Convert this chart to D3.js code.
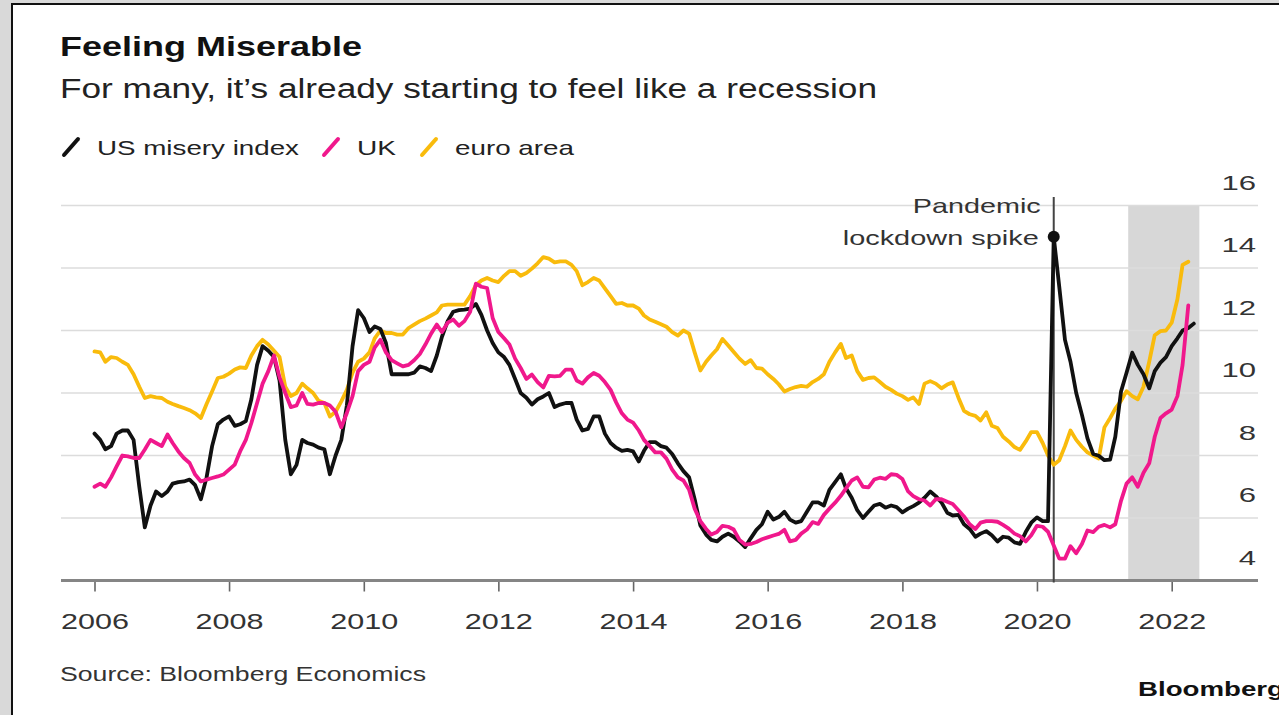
<!DOCTYPE html>
<html><head><meta charset="utf-8">
<script src="https://cdn.jsdelivr.net/npm/d3@7"></script>
<style>
html,body{margin:0;padding:0;background:#d9d9d9;}
svg{display:block;}
text{font-family:"Liberation Sans",Arial,Helvetica,sans-serif;}
</style></head>
<body>
<svg id="chart" width="1279" height="715"></svg>
<script>
// ---- data (monthly, Jan 2006 onward) ----
const startYear = 2006;
const usMisery = [8.7,8.5,8.2,8.3,8.7,8.8,8.8,8.5,7.0,5.7,6.4,6.85,6.7,6.85,7.1,7.15,7.17,7.23,7.05,6.6,7.3,8.3,9.0,9.15,9.25,8.95,9.0,9.1,9.8,10.9,11.5,11.35,11.15,10.4,8.5,7.4,7.7,8.5,8.4,8.35,8.25,8.2,7.4,8.0,8.5,9.6,11.5,12.65,12.4,11.95,12.13,12.05,11.6,10.6,10.6,10.6,10.6,10.65,10.85,10.8,10.7,11.2,11.8,12.3,12.6,12.65,12.67,12.7,12.85,12.5,12.0,11.6,11.3,11.15,10.9,10.45,10.0,9.85,9.63,9.8,9.89,10.0,9.55,9.63,9.68,9.68,9.15,8.8,8.85,9.25,9.25,8.7,8.4,8.25,8.15,8.18,8.13,7.81,8.15,8.43,8.43,8.3,8.25,8.05,7.75,7.5,7.3,6.6,5.76,5.47,5.3,5.25,5.4,5.5,5.4,5.25,5.07,5.35,5.62,5.8,6.2,5.95,6.03,6.2,5.95,5.85,5.9,6.2,6.5,6.5,6.4,6.9,7.15,7.4,6.95,6.65,6.25,6.0,6.2,6.4,6.45,6.33,6.4,6.35,6.18,6.3,6.38,6.49,6.65,6.85,6.7,6.5,6.17,6.08,6.1,5.8,5.65,5.4,5.5,5.58,5.45,5.25,5.4,5.37,5.22,5.17,5.55,5.85,6.02,5.9,5.9,15.0,13.4,11.7,11.0,10.0,9.3,8.55,8.05,7.99,7.85,7.87,8.6,10.05,10.65,11.29,10.9,10.6,10.15,10.7,10.97,11.15,11.5,11.75,12.0,12.08,12.22];
const ukMisery = [7.0,7.1,7.0,7.3,7.65,8.0,7.97,7.92,7.92,8.19,8.5,8.4,8.3,8.67,8.4,8.13,7.92,7.76,7.39,7.17,7.23,7.28,7.33,7.39,7.55,7.71,8.13,8.5,9.04,9.68,10.3,10.7,11.2,10.5,10.0,9.55,9.6,10.0,9.65,9.63,9.68,9.68,9.6,9.4,8.9,9.36,9.9,10.7,10.9,11.0,11.45,11.7,11.3,11.05,10.95,10.85,10.9,11.05,11.25,11.55,11.9,12.19,11.95,12.25,12.35,12.15,12.3,12.6,13.5,13.4,13.36,12.4,11.95,11.75,11.55,11.1,10.8,10.45,10.59,10.35,10.18,10.55,10.53,10.55,10.75,10.75,10.4,10.3,10.5,10.64,10.55,10.35,10.1,9.7,9.35,9.15,9.05,8.8,8.5,8.3,8.1,8.1,7.9,7.55,7.3,7.2,6.9,6.3,5.9,5.65,5.47,5.55,5.75,5.72,5.63,5.3,5.15,5.17,5.23,5.32,5.38,5.44,5.49,5.62,5.25,5.3,5.5,5.63,5.87,5.81,6.1,6.3,6.49,6.71,6.95,7.2,7.3,7.0,6.98,7.23,7.29,7.25,7.4,7.38,7.25,6.85,6.7,6.6,6.56,6.4,6.6,6.6,6.52,6.45,6.25,6.05,5.8,5.65,5.85,5.9,5.9,5.88,5.78,5.66,5.5,5.42,5.25,5.45,5.75,5.72,5.56,5.12,4.7,4.7,5.1,4.87,5.17,5.6,5.55,5.72,5.78,5.7,5.8,6.55,7.1,7.3,7.0,7.45,7.75,8.6,9.2,9.35,9.47,9.9,10.9,12.8];
const euroMisery = [11.33,11.3,11.0,11.15,11.12,11.0,10.9,10.6,10.2,9.84,9.9,9.86,9.84,9.72,9.65,9.58,9.52,9.45,9.35,9.2,9.65,10.05,10.48,10.52,10.62,10.75,10.82,10.8,11.2,11.5,11.7,11.55,11.35,11.15,10.2,9.9,10.0,10.3,10.15,10.0,9.75,9.68,9.25,9.4,9.73,10.1,10.65,11.0,11.1,11.3,11.75,12.0,11.92,11.92,11.87,11.87,12.08,12.19,12.3,12.38,12.48,12.58,12.8,12.83,12.83,12.83,12.83,13.1,13.45,13.6,13.68,13.6,13.55,13.75,13.9,13.9,13.75,13.84,13.98,14.15,14.35,14.3,14.18,14.21,14.21,14.1,13.9,13.45,13.55,13.68,13.6,13.35,13.1,12.85,12.88,12.8,12.8,12.7,12.48,12.35,12.28,12.2,12.12,11.95,11.84,12.0,11.9,11.3,10.72,11.0,11.2,11.4,11.73,11.52,11.31,11.1,10.93,11.05,10.8,10.78,10.6,10.45,10.28,10.05,10.13,10.19,10.23,10.2,10.35,10.45,10.6,11.0,11.3,11.57,11.12,11.2,10.7,10.42,10.48,10.5,10.35,10.2,10.1,9.98,9.9,9.78,9.86,9.65,10.3,10.38,10.3,10.15,10.27,10.34,9.85,9.43,9.32,9.27,9.12,9.38,8.95,8.88,8.6,8.45,8.27,8.18,8.45,8.75,8.75,8.4,8.0,7.7,7.85,8.3,8.8,8.5,8.28,8.1,8.0,7.9,8.9,9.2,9.5,9.75,10.06,9.9,9.8,10.2,11.0,11.85,11.98,12.0,12.25,13.0,14.1,14.2];
const yTicks = [4,6,8,10,12,14,16];
const xTickYears = [2006,2008,2010,2012,2014,2016,2018,2020,2022];
const seriesNames = ["US misery index","UK","euro area"];
const seriesColors = ["#111111","#f0188c","#f9bb0c"];
const spikeDate = "2020-04-01";
const spikeLabel = ["Pandemic","lockdown spike"];
const bandStart = "2021-05-10", bandEnd = "2022-05-31";
const titleText = "Feeling Miserable";
const subtitleText = "For many, it\u2019s already starting to feel like a recession";
const sourceText = "Source: Bloomberg Economics";
const brandText = "Bloomberg";

// ---- drawing ----
const svg = d3.select("#chart");
const monthDate = i => new Date(startYear, i, 1);
const x = d3.scaleTime().domain([new Date(2006,0,1), new Date(2022,0,1)]).range([94.5, 1171.7]);
const y = d3.scaleLinear().domain([4,16]).range([580.5, 205.5]);
const plotL = 61, plotR = 1258;
const stretch = (sel, w) => sel.attr("textLength", w).attr("lengthAdjust", "spacingAndGlyphs");

// frame
svg.append("rect").attr("x",0).attr("y",0).attr("width",1279).attr("height",715).attr("fill","#d9d9d9");
svg.append("rect").attr("x",12).attr("y",4).attr("width",1300).attr("height",740).attr("fill","#fff").attr("stroke","#111").attr("stroke-width",2);

// band
svg.append("rect").attr("x",x(new Date(bandStart))).attr("y",y(16))
  .attr("width",x(new Date(bandEnd))-x(new Date(bandStart))).attr("height",y(4)-y(16)).attr("fill","#d7d7d7");

// gridlines
svg.append("g").selectAll("line").data(yTicks.filter(d=>d>4)).join("line")
  .attr("x1",plotL).attr("x2",plotR).attr("y1",d=>y(d)).attr("y2",d=>y(d))
  .attr("stroke","#dcdcdc").attr("stroke-width",1.6);

// y labels (right, above gridline)
svg.append("g").selectAll("text").data(yTicks).join("text")
  .attr("x",1256).attr("y",d=>y(d)-16).attr("text-anchor","end")
  .attr("font-size",21).attr("fill","#333").text(d=>d)
  .each(function(d){ stretch(d3.select(this), String(d).length*17.3); });

// x axis
const xAxis = d3.axisBottom(x).tickValues(xTickYears.map(yy=>new Date(yy,0,1))).tickFormat(d3.timeFormat("%Y")).tickSize(11).tickPadding(22);
const gx = svg.append("g").attr("transform",`translate(0,${y(4)})`).call(xAxis);
gx.select(".domain").remove();
gx.selectAll(".tick line").attr("stroke","#666").attr("stroke-width",1.6);
gx.selectAll(".tick text").attr("font-size",22).attr("fill","#333").attr("font-family","Liberation Sans, Arial, sans-serif")
  .attr("textLength",68).attr("lengthAdjust","spacingAndGlyphs");
svg.append("line").attr("x1",plotL).attr("x2",plotR).attr("y1",y(4)).attr("y2",y(4)).attr("stroke","#858585").attr("stroke-width",2.8);

// spike annotation line
const sx = x(new Date(spikeDate));
svg.append("line").attr("x1",sx).attr("x2",sx).attr("y1",197).attr("y2",y(4)+2).attr("stroke","#444").attr("stroke-width",2);

// lines
const line = d3.line().x((d,i)=>x(monthDate(i))).y(d=>y(d)).curve(d3.curveLinear);
const data = [euroMisery, usMisery, ukMisery];
const cols = [seriesColors[2], seriesColors[0], seriesColors[1]];
data.forEach((s,k)=>{
  svg.append("path").datum(s).attr("d",line).attr("fill","none").attr("stroke",cols[k])
    .attr("stroke-width",3.8).attr("stroke-linejoin","round").attr("stroke-linecap","round");
});

// spike dot + label
const spikeIdx = (new Date(spikeDate).getFullYear()-startYear)*12 + new Date(spikeDate).getMonth();
svg.append("circle").attr("cx",sx).attr("cy",y(usMisery[spikeIdx])).attr("r",6).attr("fill","#111");
const annW = [128,196];
svg.append("g").selectAll("text").data(spikeLabel).join("text")
  .attr("x",(d,i)=>sx-13-(i?2:0)).attr("y",(d,i)=>213+i*32).attr("text-anchor","end")
  .attr("font-size",21).attr("fill","#333").text(d=>d)
  .each(function(d,i){ stretch(d3.select(this), annW[i]); });

// titles
stretch(svg.append("text").attr("x",60).attr("y",56).attr("font-size",28).attr("font-weight","bold").attr("fill","#111").text(titleText), 302);
stretch(svg.append("text").attr("x",60).attr("y",98).attr("font-size",27).attr("fill","#222").text(subtitleText), 817);

// legend
const legX = [62,322,420];
const legW = [202,39,119];
seriesNames.forEach((n,i)=>{
  const g = svg.append("g").attr("transform",`translate(${legX[i]},147)`);
  g.append("line").attr("x1",2).attr("y1",8).attr("x2",16).attr("y2",-8).attr("stroke",seriesColors[i]).attr("stroke-width",4).attr("stroke-linecap","round");
  stretch(g.append("text").attr("x",35).attr("y",8).attr("font-size",21).attr("fill","#222").text(n), legW[i]);
});

// source & brand
stretch(svg.append("text").attr("x",60).attr("y",681).attr("font-size",20).attr("fill","#333").text(sourceText), 366);
stretch(svg.append("text").attr("x",1138).attr("y",696).attr("font-size",21).attr("font-weight","bold").attr("fill","#111").text(brandText), 146);
</script>
</body></html>
